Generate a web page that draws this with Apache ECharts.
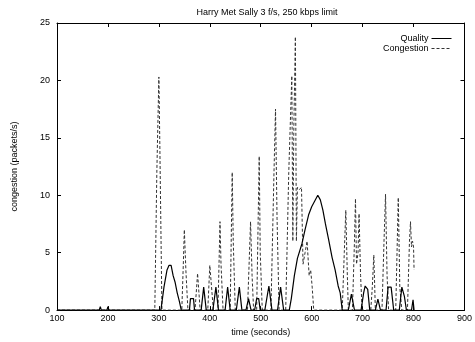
<!DOCTYPE html>
<html>
<head>
<meta charset="utf-8">
<script src="https://cdn.jsdelivr.net/npm/echarts@6/dist/echarts.min.js"></script>
<style>html,body{margin:0;padding:0;background:#fff;}#c{width:475px;height:342px;}</style>
</head>
<body>
<div id="c"></div>
<script>
var titleText = "Harry Met Sally 3 f/s, 250 kbps limit";
var xName = "time (seconds)";
var yName = "congestion (packets/s)";
var seriesNames = ["Quality", "Congestion"];

var qualityT = [100,183,185,187,198,200,202,304,310,316,320,324,328,332,336,340,344,360,362,368,370,383,388,393,406,412,417,430,435,440,452,458,463,471,476,481,488,492,496,499,508,516,522,533,539,545,556,560,566,572,581,587,594,600,606,612,617,622,627,633,640,646,652,656,660,672,678,684,697,702,705,710,714,725,730,735,746,750,756,761,772,777,782,786,796,799,801];
var qualityV = [0,0,0.3,0,0,0.3,0,0,2,3.5,3.9,3.9,3,2.4,1.5,0.8,0,0,1,1,0,0,2,0,0,2,0,0,2,0,0,2,0,0,1,0,0,1,1,0,0,2.1,0,0,2,0,0,1,3,4.5,5.8,7,8.3,9,9.5,10,9.6,8.7,7.5,6.2,4.6,3.5,2.1,1.5,0,0,1.4,0,0,1.5,2.1,1.8,0,0,0.95,0,0,2,2,0,0,2,1.2,0,0,0.9,0];

var congT = [100,292,296,300,302,306,345,348,350,353,357,371,376,381,396,400,403,407,416,420,422,426,440,444,446,450,474,480,483,486,492,497,499,503,520,526,529,532,536,549,555,561,563,565,568,570,572,576,580,583,587,591,595,598,601,604,660,664,667,670,672,680,684,686,688,691,693,696,699,716,719,722,725,738,742,745,748,751,765,770,773,777,788,792,794,796,798,800,801];
var congV = [0,0,12,20.3,14,0,0,4,7.0,3.5,0,0,3.2,0,0,3.9,3.8,0,0,7.7,4,0,0,12.0,6,0,0,7.7,3,0,0,13.4,5,0,0,12,17.5,8,0,0,12,20.4,6,16,23.8,6,10.7,10.5,10.7,4,5,6.0,3,3.5,2,0,0,5,8.7,3,0,0,6,9.7,4,5,8.4,3,0,0,2,4.8,0,0,6,10.1,3,0,0,9.8,2,0,0,6,7.7,5.5,6,5.5,3.5];

var xTicks = [100,200,300,400,500,600,700,800,900];
var yTicks = [0,5,10,15,20,25];

function pairs(t, v){ var o=[]; for(var i=0;i<t.length;i++){o.push([t[i],v[i]]);} return o; }

var font = "Liberation Sans";
var chart = echarts.init(document.getElementById('c'), null, {renderer:'canvas'});
var tickStyle = {show:true, inside:true, length:4, lineStyle:{color:'#000', width:1}};
chart.setOption({
  animation:false,
  backgroundColor:'#fff',
  textStyle:{fontFamily:font, color:'#000'},
  title:{text:titleText, top:3, left:262, textAlign:'center',
    textStyle:{fontFamily:font, fontSize:9, fontWeight:'normal', color:'#000'}},
  legend:{orient:'vertical', right:18, top:29, align:'right', itemWidth:20, itemHeight:8, itemGap:1,
    itemStyle:{opacity:0, borderWidth:0},
    lineStyle:{width:1},
    textStyle:{fontFamily:font, fontSize:9, color:'#000', padding:[0,-2,0,0]},
    data:seriesNames},
  grid:{left:57, right:8, top:23, bottom:24, containLabel:false},
  xAxis:[{type:'value', min:xTicks[0], max:xTicks[xTicks.length-1], interval:100,
    name:xName, nameLocation:'middle', nameGap:12,
    nameTextStyle:{fontFamily:font, fontSize:9, color:'#000'},
    axisLine:{show:true, onZero:false, lineStyle:{color:'#000', width:1}},
    axisTick:tickStyle, splitLine:{show:false},
    axisLabel:{fontFamily:font, fontSize:9, color:'#000', margin:4, showMinLabel:true, showMaxLabel:true}},
    {type:'value', position:'top', min:xTicks[0], max:xTicks[xTicks.length-1], interval:100,
    axisLine:{show:true, onZero:false, lineStyle:{color:'#000', width:1}},
    axisTick:tickStyle, splitLine:{show:false}, axisLabel:{show:false}}],
  yAxis:[{type:'value', min:yTicks[0], max:yTicks[yTicks.length-1], interval:5,
    name:yName, nameLocation:'middle', nameGap:38, nameRotate:90,
    nameTextStyle:{fontFamily:font, fontSize:9, color:'#000'},
    axisLine:{show:true, onZero:false, lineStyle:{color:'#000', width:1}},
    axisTick:tickStyle, splitLine:{show:false},
    axisLabel:{fontFamily:font, fontSize:9, color:'#000', margin:7}},
    {type:'value', position:'right', min:yTicks[0], max:yTicks[yTicks.length-1], interval:5,
    axisLine:{show:true, onZero:false, lineStyle:{color:'#000', width:1}},
    axisTick:tickStyle, splitLine:{show:false}, axisLabel:{show:false}}],
  series:[
    {name:seriesNames[0], type:'line', data:pairs(qualityT, qualityV), symbol:'none', showSymbol:false,
      lineStyle:{color:'#000', width:1.2}, itemStyle:{color:'#000'}, z:3},
    {name:seriesNames[1], type:'line', data:pairs(congT, congV), symbol:'none', showSymbol:false,
      lineStyle:{color:'#333', width:1, type:[3,2]}, itemStyle:{color:'#333'}, z:2}
  ]
});
</script>
</body>
</html>
